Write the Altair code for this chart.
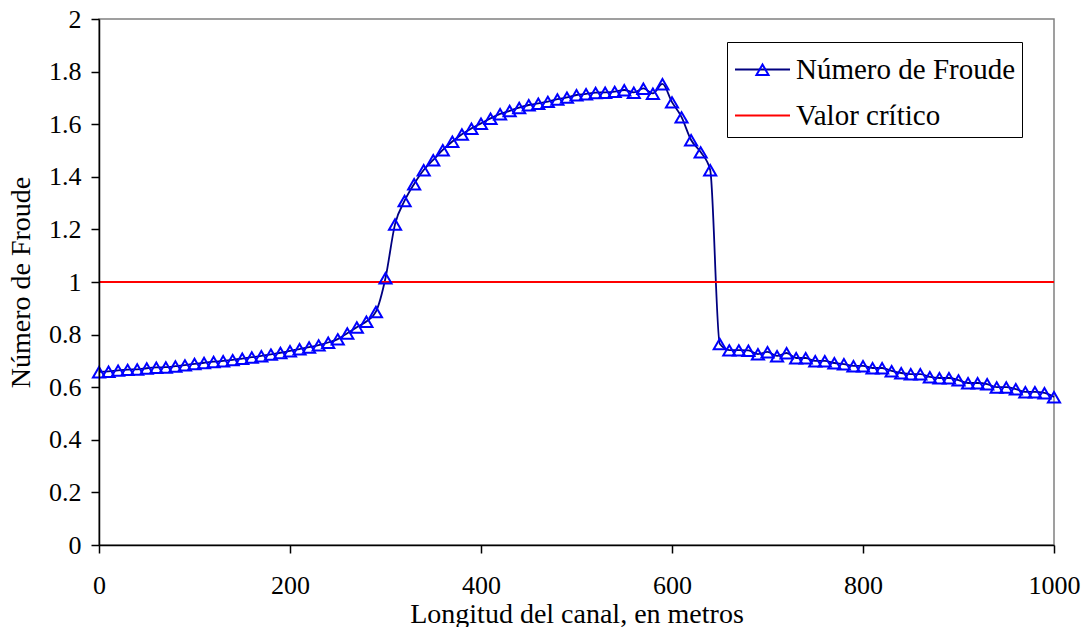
import altair as alt
import pandas as pd

# Longitud del canal (m)
x_vals = list(range(0, 1001, 10))

# Número de Froude
froude = [
    0.658, 0.660, 0.664, 0.667, 0.668, 0.672, 0.675, 0.676, 0.680, 0.684,
    0.689, 0.693, 0.697, 0.700, 0.704, 0.709, 0.714, 0.719, 0.725, 0.731,
    0.738, 0.745, 0.752, 0.760, 0.770, 0.783, 0.805, 0.828, 0.850, 0.887,
    1.015, 1.220, 1.309, 1.373, 1.426, 1.464, 1.502, 1.534, 1.562, 1.584,
    1.603, 1.622, 1.639, 1.651, 1.663, 1.673, 1.679, 1.686, 1.695, 1.702,
    1.711, 1.715, 1.720, 1.721, 1.724, 1.730, 1.721, 1.736, 1.717, 1.753,
    1.684, 1.627, 1.540, 1.494, 1.426, 0.765, 0.741, 0.741, 0.740, 0.726,
    0.734, 0.719, 0.730, 0.711, 0.711, 0.700, 0.700, 0.692, 0.688, 0.681,
    0.681, 0.673, 0.673, 0.662, 0.654, 0.650, 0.650, 0.639, 0.635, 0.635,
    0.627, 0.616, 0.616, 0.612, 0.600, 0.600, 0.593, 0.582, 0.582, 0.578,
    0.563,
]

# Valor crítico
crit_x = [0, 1000]
crit_y = [1, 1]

series_names = ["Número de Froude", "Valor crítico"]
x_ticks = [0, 200, 400, 600, 800, 1000]
y_ticks = [0, 0.2, 0.4, 0.6, 0.8, 1.0, 1.2, 1.4, 1.6, 1.8, 2.0]

FONT = "Liberation Serif"

df_f = pd.DataFrame({"x": x_vals, "y": froude, "series": series_names[0], "serie2": series_names[0]})
df_c = pd.DataFrame({"x": crit_x, "y": crit_y, "series": series_names[1], "serie2": series_names[1]})
df_lines = pd.concat([df_f, df_c], ignore_index=True)

x_enc = alt.X(
    "x:Q",
    scale=alt.Scale(domain=[0, 1000], nice=False, zero=False),
    axis=alt.Axis(
        values=x_ticks, format="d", title="Longitud del canal, en metros", grid=False,
        labelFont=FONT, titleFont=FONT, labelFontSize=26, titleFontSize=28,
        labelColor="black", titleColor="black", titleFontWeight="normal",
        domainColor="black", domainWidth=1.5, tickColor="black", tickWidth=1.5,
        tickSize=8, labelPadding=19, titlePadding=2, labelFlush=False, zindex=1,
    ),
)
y_enc = alt.Y(
    "y:Q",
    scale=alt.Scale(domain=[0, 2], nice=False),
    axis=alt.Axis(
        values=y_ticks, format="~g", title="Número de Froude", grid=False,
        labelFont=FONT, titleFont=FONT, labelFontSize=26, titleFontSize=28,
        labelColor="black", titleColor="black", titleFontWeight="normal",
        domainColor="black", domainWidth=1.5, tickColor="black", tickWidth=1.5,
        tickSize=8, labelPadding=10, titlePadding=13, labelFlush=False, zindex=1,
    ),
)

LX, LY = 628, 23
common_legend = dict(
    title=" ", titleFontSize=1, titlePadding=6, orient="none", legendX=LX, legendY=LY,
    padding=6, symbolSize=121, symbolOffset=15, labelFont=FONT, labelFontSize=29,
    labelOffset=19, rowPadding=16, labelLimit=400, direction="vertical",
)

lines = alt.Chart(df_lines).mark_line(interpolate="monotone", strokeWidth=1.8).encode(
    x=x_enc,
    y=y_enc,
    color=alt.Color(
        "series:N",
        scale=alt.Scale(domain=series_names, range=["#000080", "#FF0000"]),
        legend=alt.Legend(
            symbolType="M-5,0H5", symbolStrokeWidth=2, labelColor="black",
            strokeColor="black", **common_legend,
        ),
    ),
)

points = alt.Chart(df_f).mark_point(
    filled=False, color="#0000FF", stroke="#0000FF", strokeWidth=2, size=121, opacity=1
).encode(
    x=x_enc,
    y=y_enc,
    shape=alt.Shape(
        "serie2:N",
        scale=alt.Scale(domain=[series_names[0]], range=["M0,-0.9L1.1,1H-1.1Z"]),
        legend=alt.Legend(
            symbolStrokeColor="#0000FF", symbolStrokeWidth=2, symbolFillColor="transparent",
            labelOpacity=0, **common_legend,
        ),
    ),
)

chart = (
    alt.layer(lines, points)
    .resolve_scale(color="independent", shape="independent")
    .properties(
        width=955, height=526,
        autosize=alt.AutoSizeParams(type="none"),
        padding={"left": 91, "top": 11, "right": 27, "bottom": 82},
    )
    .configure_view(stroke="#808080", strokeWidth=1.5)
)

chart.save("out.html", embed_options={"renderer": "svg", "actions": False})
